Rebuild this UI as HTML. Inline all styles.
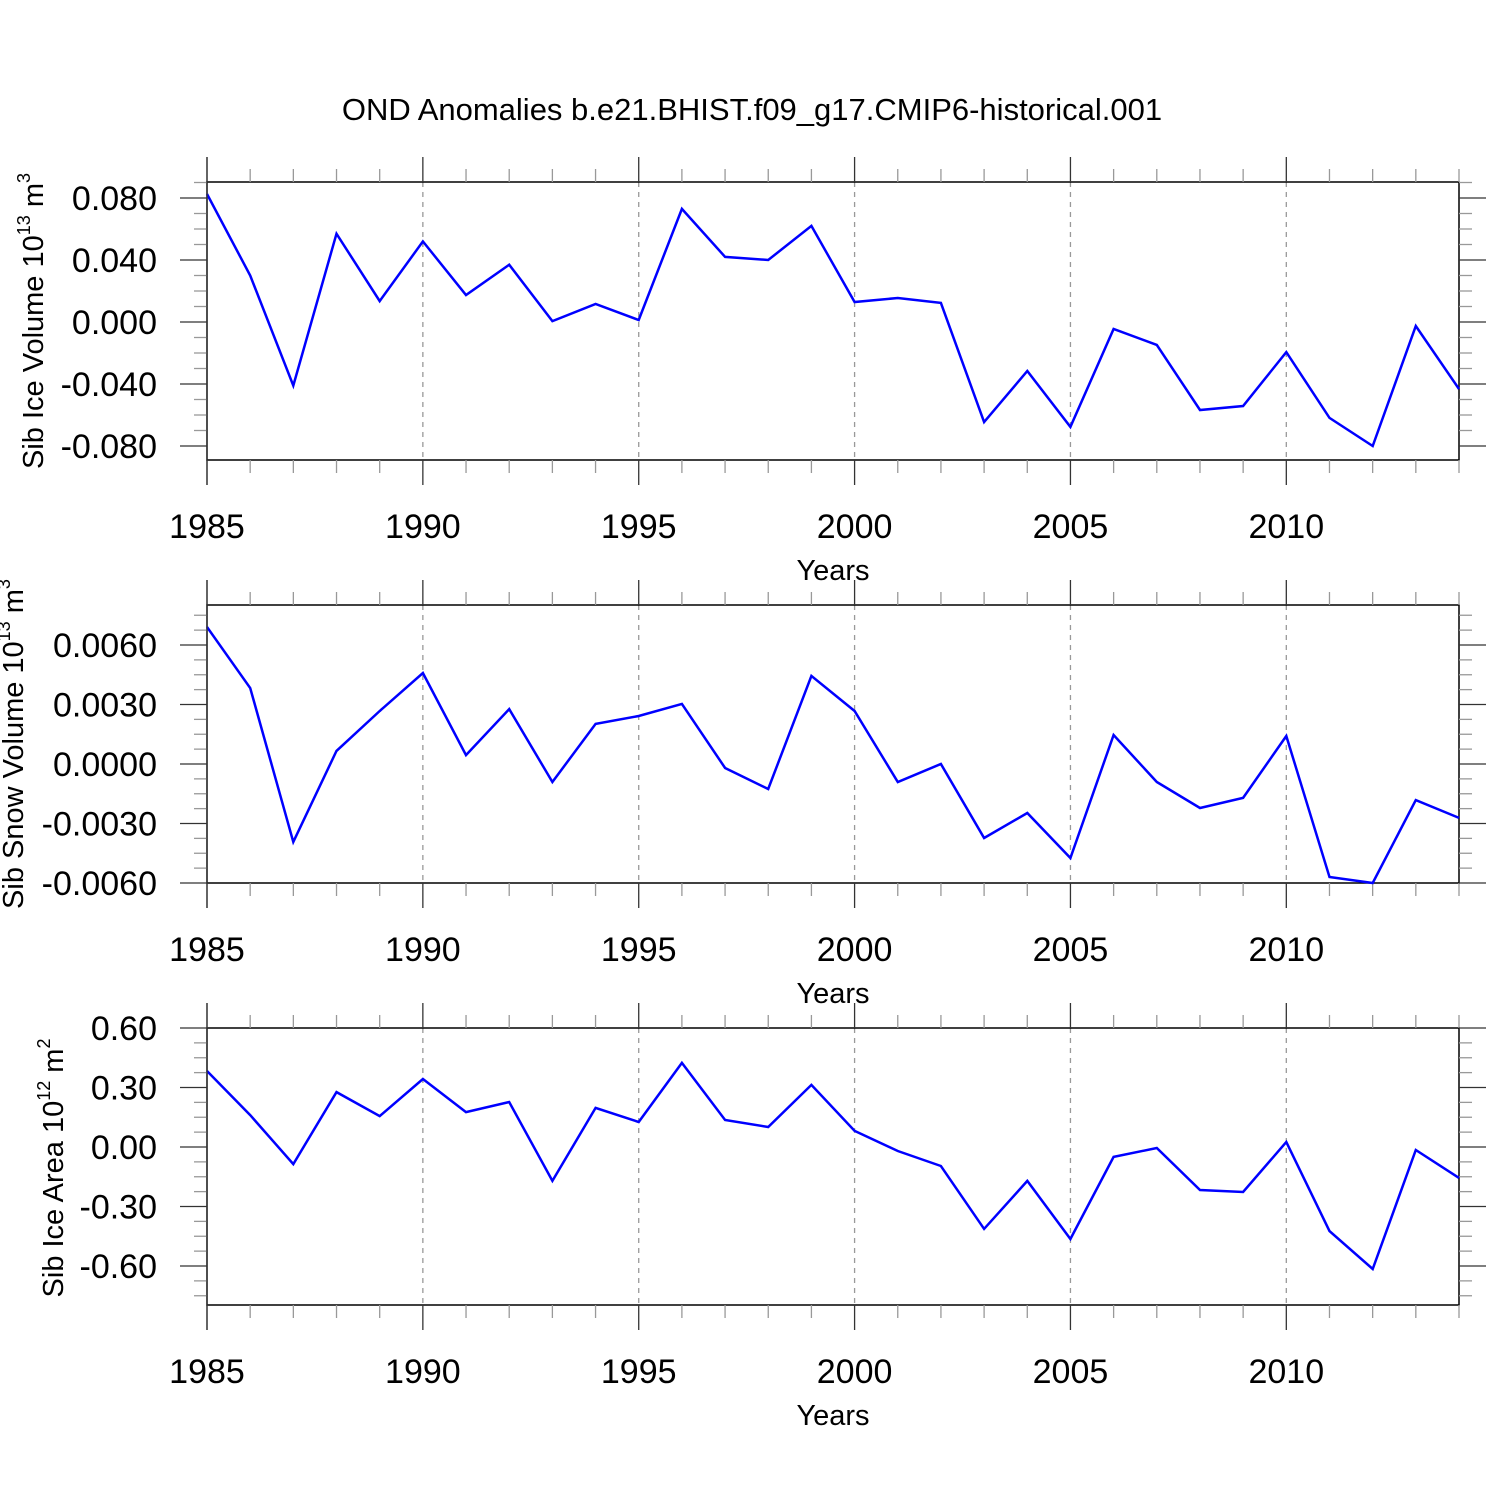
<!DOCTYPE html>
<html><head><meta charset="utf-8"><style>
body{margin:0;background:#fff}
svg{display:block;font-family:"Liberation Sans",sans-serif}
</style></head><body>
<svg id="c" width="1500" height="1500" viewBox="0 0 1500 1500">
<rect width="1500" height="1500" fill="#fff"/>
<text x="752" y="120" font-size="31" text-anchor="middle">OND Anomalies b.e21.BHIST.f09_g17.CMIP6-historical.001</text>
</svg>
<script>
const years = [1985,1986,1987,1988,1989,1990,1991,1992,1993,1994,1995,1996,1997,1998,1999,2000,2001,2002,2003,2004,2005,2006,2007,2008,2009,2010,2011,2012,2013,2014];
const iceVolume = [0.0826,0.030,-0.041,0.057,0.0135,0.052,0.0174,0.037,0.0006,0.0116,0.0013,0.073,0.042,0.040,0.062,0.0129,0.0155,0.0123,-0.0645,-0.0316,-0.0677,-0.0045,-0.0148,-0.0568,-0.0542,-0.0194,-0.0619,-0.080,-0.0026,-0.0432];
const snowVolume = [0.00691,0.00383,-0.00393,0.00066,0.00267,0.00459,0.00045,0.00277,-0.00091,0.00202,0.00242,0.00303,-0.0002,-0.00126,0.00444,0.00267,-0.00091,0,-0.00373,-0.00247,-0.00474,0.00146,-0.00091,-0.00222,-0.00171,0.00141,-0.0057,-0.006,-0.00182,-0.00272];
const iceArea = [0.383,0.161,-0.086,0.277,0.156,0.343,0.176,0.227,-0.171,0.197,0.126,0.424,0.136,0.101,0.313,0.081,-0.020,-0.096,-0.413,-0.171,-0.464,-0.050,-0.005,-0.217,-0.227,0.025,-0.424,-0.615,-0.015,-0.156];
const iceTicks = [0.08,0.04,0,-0.04,-0.08];
const iceTickLabels = ["0.080","0.040","0.000","-0.040","-0.080"];
const snowTicks = [0.006,0.003,0,-0.003,-0.006];
const snowTickLabels = ["0.0060","0.0030","0.0000","-0.0030","-0.0060"];
const areaTicks = [0.6,0.3,0,-0.3,-0.6];
const areaTickLabels = ["0.60","0.30","0.00","-0.30","-0.60"];
const xTicks = [1985,1990,1995,2000,2005,2010];

const NS="http://www.w3.org/2000/svg";
const svg=document.getElementById('c');
function mk(tag,attrs,parent){const e=document.createElementNS(NS,tag);for(const k in attrs)e.setAttribute(k,attrs[k]);(parent||svg).appendChild(e);return e;}
const X0=207,X1=1459;
const xs=y=>X0+(y-1985)*(X1-X0)/29;

function panel(name,top,bottom,vTop,vBot,vals,ticks,labels,minorStep,titleMain,titleExp,titleUnit,titleCy,titleX){
  const g=mk('g',{});
  
  
  const ys=v=>top+(vTop-v)*(bottom-top)/(vTop-vBot);
  for(const t of xTicks.slice(1)){
    const l=mk('line',{x1:xs(t),x2:xs(t),y1:top,y2:bottom,stroke:'#999','stroke-width':1.3,'stroke-dasharray':'5,5'},g);
    
    
  }
  const fr=mk('rect',{x:X0,y:top,width:X1-X0,height:bottom-top,fill:'none',stroke:'#000','stroke-width':1.5},g);
  
  
  for(const y of years){
    const maj=xTicks.includes(y);const L=maj?25:13;
    mk('line',{x1:xs(y),x2:xs(y),y1:top,y2:top-L,stroke:maj?'#333':'#999','stroke-width':1.3},g);
    mk('line',{x1:xs(y),x2:xs(y),y1:bottom,y2:bottom+L,stroke:maj?'#333':'#999','stroke-width':1.3},g);
  }
  for(const t of xTicks){
    const tx=mk('text',{x:xs(t),y:bottom+78,'font-size':34,'text-anchor':'middle'},g);
    tx.textContent=t;
    
    
  }
  const xt=mk('text',{x:833,y:bottom+120,'font-size':29,'text-anchor':'middle'},g);
  xt.textContent='Years';
  
  
  const lo=Math.min(vTop,vBot),hi=Math.max(vTop,vBot);
  for(let k=Math.ceil(lo/minorStep-1e-6);k*minorStep<=hi+1e-9;k++){
    const v=k*minorStep,yy=ys(v);
    const maj=Math.abs(k%4)==0;const L=maj?27:13;
    mk('line',{x1:X0,x2:X0-L,y1:yy,y2:yy,stroke:maj?'#333':'#999','stroke-width':1.3},g);
    mk('line',{x1:X1,x2:X1+L,y1:yy,y2:yy,stroke:maj?'#333':'#999','stroke-width':1.3},g);
  }
  ticks.forEach((t,i)=>{
    const tx=mk('text',{x:157,y:ys(t)+12,'font-size':34,'text-anchor':'end'},g);
    tx.textContent=labels[i];
    
    
  });
  const yt=mk('text',{x:0,y:0,'font-size':29,'text-anchor':'middle',transform:`translate(${titleX},${titleCy}) rotate(-90)`},g);
  
  
  const t1=mk('tspan',{},yt);t1.textContent=titleMain+' 10';
  const t2=mk('tspan',{'font-size':18,dy:-13},yt);t2.textContent=titleExp;
  const t3=mk('tspan',{dy:13},yt);t3.textContent=' m';
  const t4=mk('tspan',{'font-size':18,dy:-13},yt);t4.textContent=titleUnit;
  const pts=vals.map((v,i)=>xs(years[i]).toFixed(1)+','+ys(v).toFixed(1)).join(' ');
  const pl=mk('polyline',{points:pts,fill:'none',stroke:'#0000ff','stroke-width':2.5,'stroke-linejoin':'miter'},g);
  
  
  mk('line',{x1:X0,x2:X0,y1:top-25,y2:bottom+25,stroke:'#333','stroke-width':1.3},g);
}
panel('ice-volume',182,460,0.08+16/1550,0.08+16/1550-278/1550,iceVolume,iceTicks,iceTickLabels,0.01,'Sib Ice Volume','13','3',321,43);
panel('snow-volume',605,883,0.006+40/119*0.006,-0.006,snowVolume,snowTicks,snowTickLabels,0.00075,'Sib Snow Volume','13','3',744,23);
panel('ice-area',1028,1305,0.6,0.6-277/119*0.6,iceArea,areaTicks,areaTickLabels,0.075,'Sib Ice Area','12','2',1168,63);
</script>
</body></html>
